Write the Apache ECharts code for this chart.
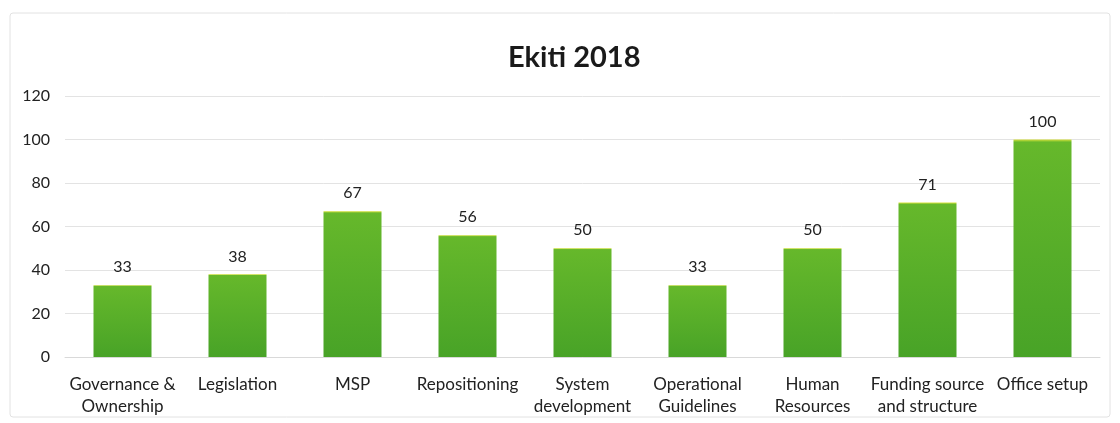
<!DOCTYPE html>
<html>
<head>
<meta charset="utf-8">
<script src="https://cdn.jsdelivr.net/npm/echarts@6/dist/echarts.min.js"></script>
<style>
  html, body { margin: 0; padding: 0; background: #ffffff; }
  #chart { width: 1120px; height: 423px; }
</style>
</head>
<body>
<div id="chart"></div>
<script>
// Ekiti 2018 scores per area
const categories = [
  'Governance &\nOwnership', 'Legislation', 'MSP', 'Repositioning',
  'System\ndevelopment', 'Operational\nGuidelines', 'Human\nResources',
  'Funding source\nand structure', 'Office setup'
];
const scores = [33, 38, 67, 56, 50, 33, 50, 71, 100];
const yTicks = { min: 0, max: 120, interval: 20 };

const chart = echarts.init(document.getElementById('chart'), null, { renderer: 'canvas' });

const barFill = new echarts.graphic.LinearGradient(0, 0, 0, 1, [
  { offset: 0, color: '#d6e23a' },
  { offset: 0.012, color: '#66b82b' },
  { offset: 1, color: '#48a327' }
]);

chart.setOption({
  backgroundColor: '#ffffff',
  textStyle: { fontFamily: 'Lato, "Open Sans", sans-serif' },
  graphic: [{
    type: 'rect',
    shape: { x: 10, y: 13, width: 1100, height: 404, r: 3 },
    style: { fill: 'none', stroke: '#e2e2e2', lineWidth: 1 },
    silent: true, z: -1
  }],
  title: {
    text: 'Ekiti 2018',
    left: 503,
    top: 38,
    textStyle: { fontSize: 29, fontWeight: 'bold', color: '#1a1a1a', fontFamily: 'Lato, "Open Sans", sans-serif' }
  },
  grid: { left: 65, right: 20, top: 96, bottom: 66 },
  xAxis: {
    type: 'category',
    data: categories,
    axisLine: { show: true, lineStyle: { color: '#d9d9d9' } },
    axisTick: { show: false },
    axisLabel: { color: '#222222', fontSize: 17, lineHeight: 22, margin: 17, interval: 0 }
  },
  yAxis: {
    type: 'value',
    min: yTicks.min,
    max: yTicks.max,
    interval: yTicks.interval,
    axisLine: { show: false },
    axisTick: { show: false },
    axisLabel: { color: '#222222', fontSize: 16, margin: 15 },
    splitLine: { lineStyle: { color: '#e3e3e3' } }
  },
  series: [{
    type: 'bar',
    data: scores,
    barWidth: 58,
    itemStyle: { color: barFill },
    label: { show: true, position: 'top', distance: 10, color: '#222222', fontSize: 16 }
  }]
});
</script>
</body>
</html>
